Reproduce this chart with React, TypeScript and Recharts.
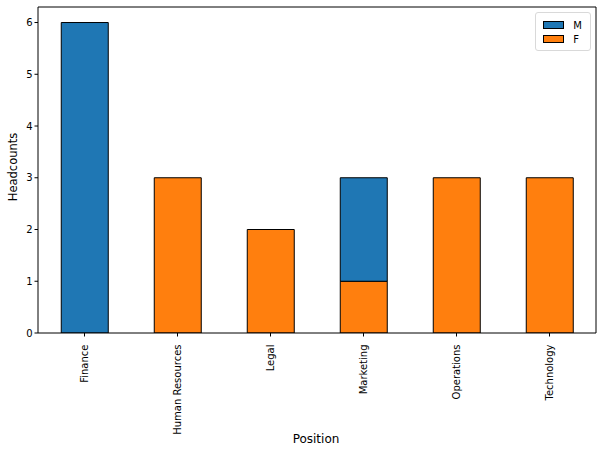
import { BarChart, Bar, XAxis, YAxis } from 'recharts';

const positions = ['Finance', 'Human Resources', 'Legal', 'Marketing', 'Operations', 'Technology'];
const maleCounts = [6, 0, 0, 2, 0, 0];
const femaleCounts = [0, 3, 2, 1, 3, 3];
const yTicks = [0, 1, 2, 3, 4, 5, 6];
const legendItems = [
  { label: 'M', color: '#1f77b4' },
  { label: 'F', color: '#ff7f0e' },
];

const data = positions.map((p, i) => ({ position: p, M: maleCounts[i], F: femaleCounts[i] }));

const FONT = 'DejaVu Sans, sans-serif';

const RotatedTick = (props: any) => {
  const { x, y, payload } = props;
  return (
    <g transform={`translate(${x},${y})`}>
      <text
        x={0}
        y={0}
        dy={3.5}
        dx={-6}
        transform="rotate(-90)"
        textAnchor="end"
        fontSize={10}
        fontFamily={FONT}
        fill="#000"
      >
        {payload.value}
      </text>
    </g>
  );
};

// matplotlib style legend box, top right of the axes
const LegendBox = () => (
  <div
    style={{
      position: 'absolute',
      top: 12,
      right: 11,
      border: '1px solid #d9d9d9',
      borderRadius: 3,
      background: 'rgba(255,255,255,0.8)',
      padding: '5px 8px 4px 7px',
      fontFamily: FONT,
      fontSize: 10,
      color: '#000',
    }}
  >
    {legendItems.map((item) => (
      <div key={item.label} style={{ display: 'flex', alignItems: 'center', height: 14 }}>
        <div
          style={{
            width: 19,
            height: 6,
            background: item.color,
            border: '1px solid #000',
            marginRight: 9,
          }}
        />
        <span>{item.label}</span>
      </div>
    ))}
  </div>
);

export default function App() {
  return (
    <div style={{ position: 'absolute', left: 0, top: 0, width: 602, height: 454, background: '#fff' }}>
      <BarChart
        width={602}
        height={454}
        data={data}
        margin={{ top: 7, right: 6, bottom: 0, left: 0 }}
        barCategoryGap="25%"
      >
        <XAxis
          dataKey="position"
          axisLine={{ stroke: '#000', strokeWidth: 1 }}
          tickLine={{ stroke: '#000' }}
          tickSize={3.5}
          tick={<RotatedTick />}
          interval={0}
          height={121}
        />
        <YAxis
          domain={[0, 6.3]}
          ticks={yTicks}
          allowDataOverflow
          axisLine={{ stroke: '#000', strokeWidth: 1 }}
          tickLine={{ stroke: '#000' }}
          tickSize={3.5}
          tickMargin={2}
          width={38}
          tick={{ fontSize: 10, fontFamily: FONT, fill: '#000' }}
        />
        <Bar dataKey="F" stackId="a" fill="#ff7f0e" stroke="#000" strokeWidth={1} isAnimationActive={false} />
        <Bar dataKey="M" stackId="a" fill="#1f77b4" stroke="#000" strokeWidth={1} isAnimationActive={false} />
        {/* top and right frame lines */}
        <line x1={38} y1={7} x2={596} y2={7} stroke="#000" strokeWidth={1} />
        <line x1={596} y1={7} x2={596} y2={333} stroke="#000" strokeWidth={1} />
        <text x={13} y={167} transform="rotate(-90, 13, 167)" textAnchor="middle" dominantBaseline="central" fontSize={11.5} fontFamily={FONT} fill="#000">
          Headcounts
        </text>
        <text x={316} y={439} textAnchor="middle" dominantBaseline="central" fontSize={12} fontFamily={FONT} fill="#000">
          Position
        </text>
      </BarChart>
      <LegendBox />
    </div>
  );
}
